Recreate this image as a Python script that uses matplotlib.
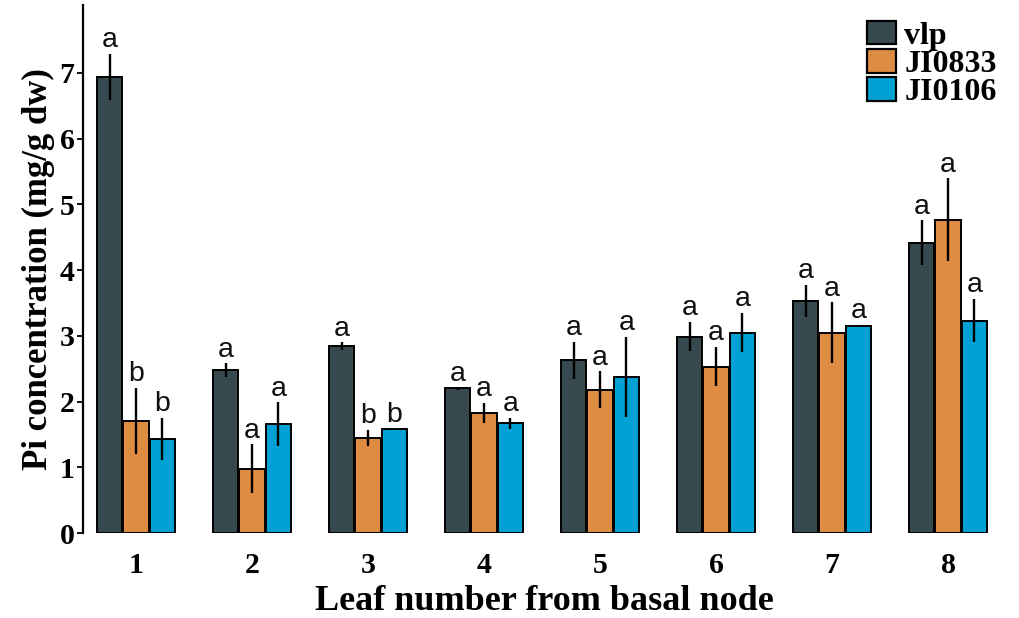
import matplotlib
matplotlib.use("Agg")
import matplotlib.pyplot as plt
import numpy as np

leaves = ["1", "2", "3", "4", "5", "6", "7", "8"]
genotypes = ["vlp", "JI0833", "JI0106"]
colors = ["#36494F", "#DD8C42", "#00A1D5"]

vlp_mean = [6.94, 2.48, 2.84, 2.20, 2.63, 2.99, 3.53, 4.42]
vlp_se = [0.35, 0.10, 0.06, 0.02, 0.28, 0.22, 0.25, 0.34]
ji0833_mean = [1.71, 0.98, 1.45, 1.83, 2.18, 2.53, 3.05, 4.77]
ji0833_se = [0.50, 0.37, 0.12, 0.15, 0.28, 0.30, 0.46, 0.63]
ji0106_mean = [1.43, 1.66, 1.58, 1.67, 2.38, 3.05, 3.15, 3.23]
ji0106_se = [0.32, 0.33, 0.01, 0.08, 0.61, 0.30, 0.02, 0.33]

vlp_letters = ["a", "a", "a", "a", "a", "a", "a", "a"]
ji0833_letters = ["b", "a", "b", "a", "a", "a", "a", "a"]
ji0106_letters = ["b", "a", "b", "a", "a", "a", "a", "a"]

means = [vlp_mean, ji0833_mean, ji0106_mean]
ses = [vlp_se, ji0833_se, ji0106_se]
letters = [vlp_letters, ji0833_letters, ji0106_letters]

fig = plt.figure(figsize=(10.2, 6.18), dpi=100)
ax = fig.add_axes([0.0814, 0.1375, 0.90, 0.855])

x = np.arange(1, len(leaves) + 1)
bw = 0.227
offsets = [-bw, 0, bw]
for i, g in enumerate(genotypes):
    xs = x + offsets[i]
    ax.bar(xs, means[i], width=bw * 0.97, color=colors[i], edgecolor="black",
           linewidth=1.4, label=g, zorder=2)
    m = np.array(means[i]); s = np.array(ses[i])
    ax.vlines(xs, m - s, m + s, color="black", linewidth=1.7, zorder=3)
    for xi, mi, si, lt in zip(xs, m, s, letters[i]):
        ax.text(xi, mi + si + 0.1, lt, ha="center", va="baseline",
                fontsize=20.5, family="Liberation Sans", color="#111111")

ax.set_xlim(0.543, 8.457)
ax.set_ylim(0, 8.04)
ax.set_yticks(range(0, 8))
ax.set_xticks(x)
ax.set_xticklabels(leaves)
for sp in ["top", "right", "bottom"]:
    ax.spines[sp].set_visible(False)
ax.spines["left"].set_linewidth(1.6)
ax.tick_params(axis="x", length=0, pad=14)
ax.tick_params(axis="y", length=4, width=1.3, pad=2)
for lab in ax.get_xticklabels() + ax.get_yticklabels():
    lab.set_family("Liberation Serif")
    lab.set_fontweight("bold")
    lab.set_fontsize(21.5)

ax.set_xlabel("Leaf number from basal node", family="Liberation Serif",
              fontweight="bold", fontsize=26)
ax.set_ylabel("Pi concentration (mg/g dw)", family="Liberation Serif",
              fontweight="bold", fontsize=25)
ax.xaxis.label.set_va("baseline")
ax.xaxis.set_label_coords(0.503, -0.145)
ax.yaxis.set_label_coords(-0.030, 0.5)

leg = ax.legend(loc="upper right", bbox_to_anchor=(997 / 1020, 1 - 21 / 618),
                bbox_transform=fig.transFigure, frameon=False,
                prop={"family": "Liberation Serif", "weight": "bold", "size": 23},
                handlelength=0.88, handleheight=0.75, handletextpad=0.28,
                labelspacing=-0.05, borderaxespad=0, borderpad=0)
for h in leg.legend_handles:
    h.set_linewidth(1.6)

fig.savefig("out.png", dpi=100)
